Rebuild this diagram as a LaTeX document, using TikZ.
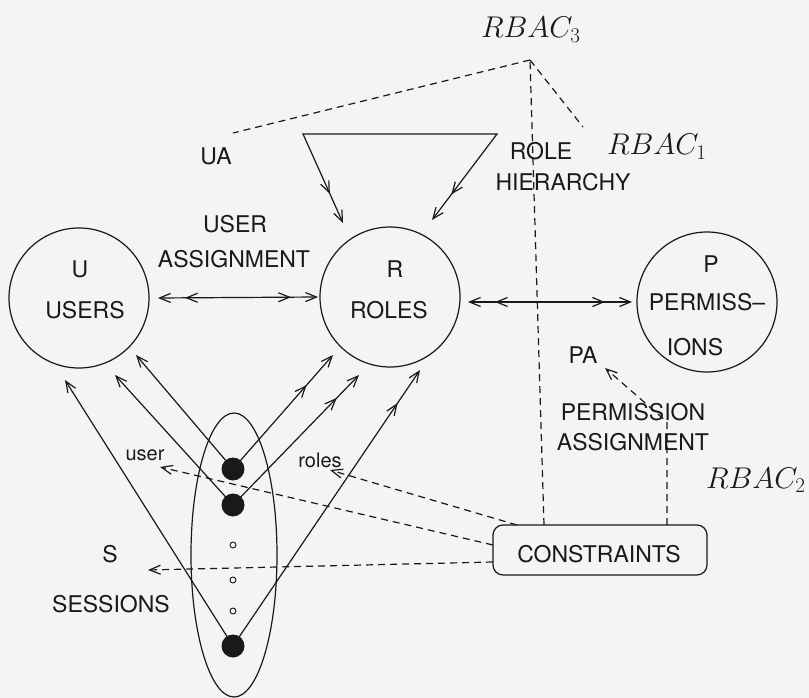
\RequirePackage{fix-cm}
\documentclass[tikz,border=0pt]{standalone}
\usepackage[no-math]{fontspec}
\setmainfont{TeX Gyre Heros}
\usetikzlibrary{arrows.meta,decorations.markings,shapes.geometric}

\definecolor{ink}{gray}{0.1}
\definecolor{paper}{gray}{0.955}

\begin{document}
\begin{tikzpicture}[x=1pt,y=-1pt,
  line width=1.2pt, color=ink,
  every node/.style={inner sep=0pt, outer sep=0pt},
  lbl/.style={font=\fontsize{23}{27}\selectfont, anchor=base},
  small/.style={font=\fontsize{20}{24}\selectfont, anchor=base},
  mth/.style={font=\fontsize{30}{36}\selectfont, anchor=base west},
  set/.style={circle, draw, minimum size=140pt},
  dot/.style={circle, fill=ink, minimum size=23pt},
  ring/.style={circle, draw, line width=0.9pt, minimum size=6pt},
  barb/.tip={Straight Barb[length=11pt,width=9pt]},
  tipA/.style={-barb},
  % one head at the end and a second one further back
  tipB/.style={-barb, postaction={decorate},
    decoration={markings, mark=at position -#1 with {\arrow{barb}}}},
  % two heads at each end
  dbl/.style={barb-barb, postaction={decorate},
    decoration={markings,
      mark=at position #1 with {\arrowreversed{barb}},
      mark=at position -#1 with {\arrow{barb}}}},
  dsh/.style={dash pattern=on 7pt off 5pt},
]
% page
\fill[paper] (0,0) rectangle (809,698);
\useasboundingbox (0,0) rectangle (809,698);

% the three sets
\node[set] (U) at (79,298) {};
\node[set] (R) at (390,297) {};
\node[set] (P) at (707,302) {};
\node[lbl] (Ul) at (80,277) {U};
\node[lbl] (Un) at (85,318) {USERS};
\node[lbl] (Rl) at (395,277) {R};
\node[lbl] (Rn) at (389,318) {ROLES};
\node[lbl] (Pl) at (711,272) {P};
\node[lbl] (Pn1) at (707,310) {PERMISS–};
\node[lbl] (Pn2) at (695,355) {IONS};

% sessions
\node[ellipse, draw, minimum width=86pt, minimum height=284pt] (Ses) at (234,555) {};
\node[dot] (d1) at (233,469) {};
\node[dot] (d2) at (233,505) {};
\node[ring] (o1) at (233,545) {};
\node[ring] (o2) at (233,580) {};
\node[ring] (o3) at (233,611) {};
\node[dot] (d4) at (233,646) {};
\node[lbl] (Sl) at (110,562) {S};
\node[lbl] (Sn) at (111,612) {SESSIONS};

% constraints box
\node[draw, rounded corners=10pt, minimum width=214pt, minimum height=50pt] (C) at (600,550) {};
\node[lbl] (Ct) at (599,562) {CONSTRAINTS};

% labels
\node[lbl] (UA) at (216,165) {UA};
\node[lbl] (UAs1) at (235,232) {USER};
\node[lbl] (UAs2) at (234,267) {ASSIGNMENT};
\node[lbl] (RH1) at (541,160) {ROLE};
\node[lbl] (RH2) at (563,190) {HIERARCHY};
\node[lbl] (PA) at (583,363) {PA};
\node[lbl] (PAs1) at (633,420) {PERMISSION};
\node[lbl] (PAs2) at (633,450) {ASSIGNMENT};
\node[small] (us) at (145,460) {user};
\node[small] (ro) at (320,467) {roles};
\node[mth] (rb3) at (481,38) {$RBAC_3$};
\node[mth] (rb1) at (607,155) {$RBAC_1$};
\node[mth] (rb2) at (706,488) {$RBAC_2$};

% free ends of connectors
\coordinate (top3) at (530,60);
\coordinate (uaend) at (233,133);
\coordinate (rb1end) at (583,127);
\coordinate (tl) at (303,134);
\coordinate (tr) at (497,134);
\coordinate (hl) at (343,223);
\coordinate (hr) at (432,220);
\coordinate (pabend) at (667,422);
\coordinate (patip) at (605,368);
\coordinate (usertip) at (160,467);
\coordinate (rolestip) at (330,470);
\coordinate (stip) at (148,570);
\coordinate (a1u) at (136,355);
\coordinate (a1r) at (333,355);
\coordinate (a2u) at (115,375);
\coordinate (a2r) at (359,375);
\coordinate (a4u) at (65,380);
\coordinate (a4r) at (420,370);

% assignments
\draw[dbl=27pt] ([xshift=9pt]U.east) -- ([xshift=-2pt]R.west);
\draw[dbl=27pt] ([shift={(8pt,-5pt)}]R.east) -- ([xshift=-5pt]P.west);

% role hierarchy
\draw[dbl=32pt, line join=miter] (hl) -- (tl) -- (tr) -- (hr);

% session links
\draw[tipA] (d1.center) -- (a1u);
\draw[tipB=40pt] (d1.center) -- (a1r);
\draw[tipA] (d2.center) -- (a2u);
\draw[tipB=32pt] (d2.center) -- (a2r);
\draw[tipA] (d4.center) -- (a4u);
\draw[tipB=40pt] (d4.center) -- (a4r);

% RBAC model lines
\draw[dsh] ([xshift=-56pt]C.north) -- (top3);
\draw[dsh] (top3) -- (uaend);
\draw[dsh] (top3) -- (rb1end);
\draw[dsh, tipA] ([xshift=67pt]C.north) -- (pabend) -- (patip);
\draw[dsh, tipA] ([xshift=-83pt]C.north) -- (rolestip);
\draw[dsh, tipA] ([yshift=5pt]C.west) -- (usertip);
\draw[dsh, tipA] ([yshift=-12pt]C.west) -- (stip);
\end{tikzpicture}
\end{document}
